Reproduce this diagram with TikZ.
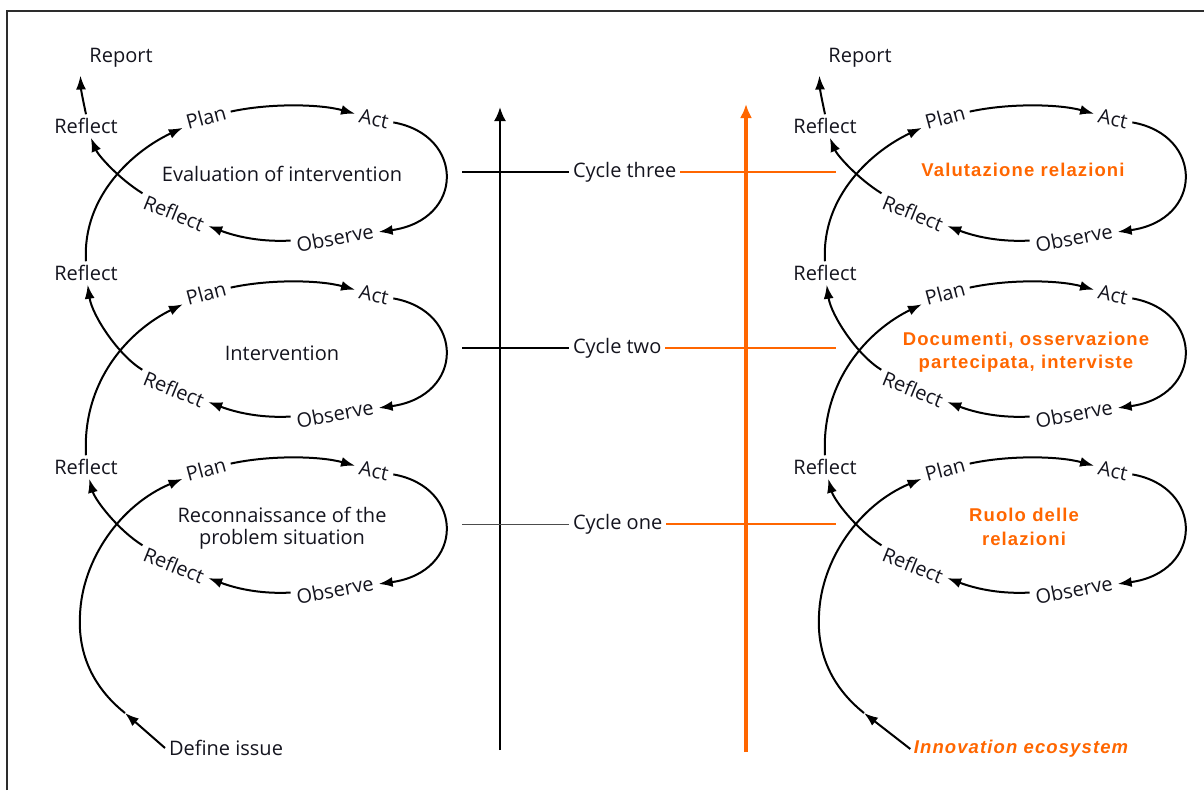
\documentclass[tikz,border=0pt]{standalone}
\usepackage{fontspec}
\setmainfont{Open Sans}
\newfontfamily\accentfont[LetterSpace=6]{Liberation Sans}
\usetikzlibrary{arrows.meta,calc}
\definecolor{accent}{RGB}{255,102,0}
\definecolor{framegray}{RGB}{45,45,45}
\definecolor{ink}{RGB}{20,20,30}

\tikzset{
  lbl/.style={font=\fontsize{20}{22}\selectfont, text=ink, inner sep=2pt, outer sep=2pt},
  ring/.style={lbl, outer sep=3pt},
  midtext/.style={font=\fontsize{20}{22}\selectfont, text=ink, align=center},
  note/.style={font=\accentfont\bfseries\fontsize{18.5}{23.5}\selectfont, text=accent, align=center},
  arr/.style={line width=2pt, -{Latex[length=14pt,width=10pt]}},
  axis/.style={line width=2.4pt, -{Latex[length=14pt,width=12pt]}},
  oaxis/.style={axis, draw=accent, line width=3.2pt},
  tick/.style={line width=1.3pt},
  thintick/.style={line width=0.9pt, draw=black!70},
  otick/.style={line width=1.8pt, draw=accent},
}

% one Plan-Act-Observe-Reflect loop; #1 = name, #2 = shift
\newcommand{\ringcycle}[2]{%
  \begin{scope}[shift={#2}]
    \node[ring, rotate=15]  (plan#1) at (206,117) {Plan};
    \node[ring, rotate=-12] (act#1)  at (374,119) {Act};
    \node[ring, rotate=11]  (obs#1)  at (335,238) {Observe};
    \node[ring, rotate=-22] (refl#1) at (174,213) {Reflect};
    \draw[arr] (plan#1) .. controls (270,103) and (320,104) .. (act#1);
    \draw[arr] (act#1) .. controls (465,135) and (465,220) .. (obs#1);
    \draw[arr] (obs#1) .. controls (265,242) and (240,238) .. (refl#1);
  \end{scope}}

% the whole three-cycle spiral; #1 = name suffix (start node start#1 must exist)
\newcommand{\spiral}[1]{%
  \ringcycle{3#1}{(0,0)}
  \ringcycle{2#1}{(0,176)}
  \ringcycle{1#1}{(0,352)}
  \node[lbl] (report#1) at (121,58)  {Report};
  \node[lbl] (rl3#1)    at (86,126)  {Reflect};
  \node[lbl] (rl2#1)    at (86,273)  {Reflect};
  \node[lbl] (rl1#1)    at (86,467)  {Reflect};
  \coordinate (bend#1) at (125,713);
  \draw[arr] (rl3#1.north) .. controls (83,100) and (81,90) .. ($(report#1.south west)+(-5,4)$);
  \draw[arr] (refl3#1) .. controls (118,178) and (98,155) .. (rl3#1);
  \draw[arr] (refl2#1) .. controls (118,355) and (92,315) .. (rl2#1);
  \draw[arr] (refl1#1) .. controls (118,530) and (95,500) .. (rl1#1);
  \draw[arr] (rl2#1.north) .. controls (82,195) and (135,150) .. (plan3#1);
  \draw[arr] (rl1#1.north) .. controls (82,380) and (130,330) .. (plan2#1);
  \draw[arr] (start#1.west) -- (bend#1);
  \draw[arr] (bend#1) .. controls (90,685) and (78,650) .. (80,615)
                      .. controls (82,560) and (120,505) .. (plan1#1);
}

\begin{document}
\begin{tikzpicture}[x=1pt, y=-1pt]
  \useasboundingbox (0,0) rectangle (1204,790);
  \draw[framegray, line width=1.2pt] (7,790) -- (7,11) -- (1204,11);

  % left spiral
  \node[lbl] (startL) at (226,748) {Define issue};
  \spiral{L}
  \node[midtext] (t3L) at (282,174) {Evaluation of intervention};
  \node[midtext] (t2L) at (282,353) {Intervention};
  \node[midtext] (t1L) at (282,528) {Reconnaissance of the\\problem situation};

  % right spiral
  \node[note, font=\accentfont\bfseries\itshape\fontsize{18.5}{22}\selectfont] (startR) at (1021,749) {Innovation ecosystem};
  \begin{scope}[shift={(739,0)}]
    \spiral{R}
  \end{scope}
  \node[note] (t3R) at (1023,170) {Valutazione relazioni};
  \node[note] (t2R) at (1026,352) {Documenti, osservazione\\partecipata, interviste};
  \node[note] (t1R) at (1024,527) {Ruolo delle\\relazioni};

  % central time axes
  \coordinate (vb) at (500,750);
  \coordinate (vt) at (500,107);
  \draw[axis] (vb) -- (vt);
  \coordinate (ob) at (746,752);
  \coordinate (ot) at (746,104);
  \draw[oaxis] (ob) -- (ot);

  % cycle labels with their guide lines
  \node[lbl, anchor=west] (c3) at (569,172) {Cycle three};
  \node[lbl, anchor=west] (c2) at (569,348) {Cycle two};
  \node[lbl, anchor=west] (c1) at (569,524) {Cycle one};
  \coordinate (a3) at (462,172);
  \coordinate (a2) at (462,348);
  \coordinate (a1) at (462,524);
  \coordinate (o3) at (836,172);
  \coordinate (o2) at (836,348);
  \coordinate (o1) at (836,524);
  \draw[tick] (a3) -- (c3.west);
  \draw[tick] (a2) -- (c2.west);
  \draw[thintick] (a1) -- (c1.west);
  \draw[otick] (c3.east) -- (o3);
  \draw[otick] (c2.east) -- (o2);
  \draw[otick] (c1.east) -- (o1);
\end{tikzpicture}
\end{document}
